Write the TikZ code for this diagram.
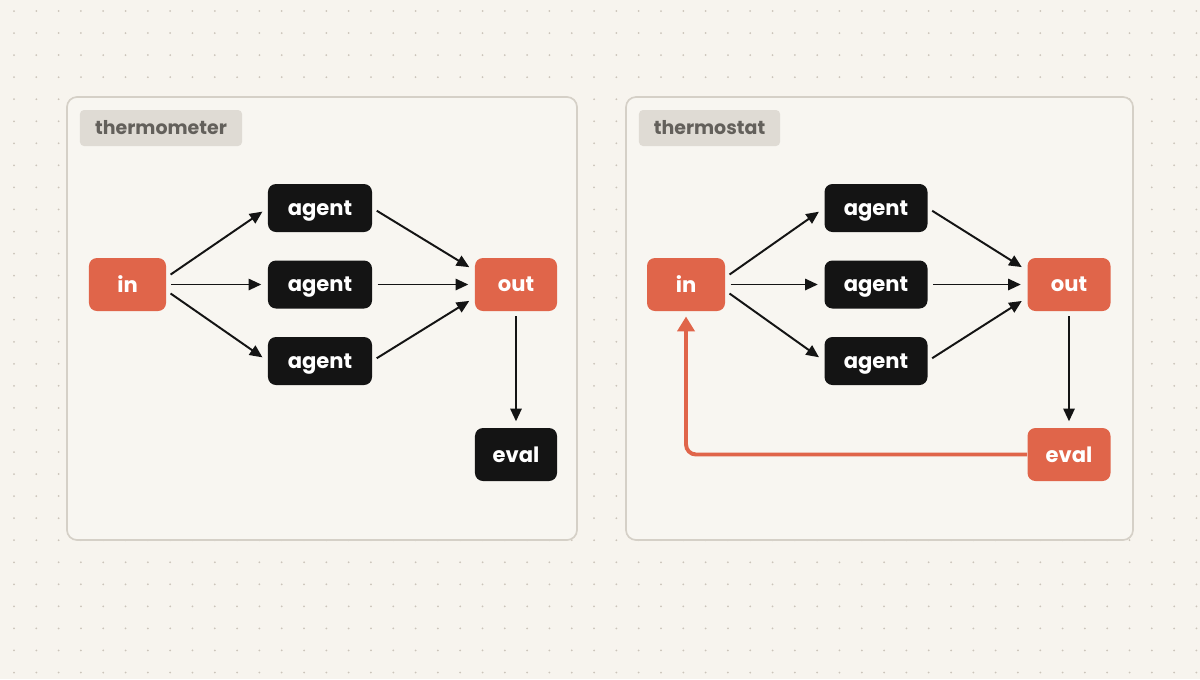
\documentclass[tikz,border=0pt]{standalone}
\usepackage{fontspec}
\setmainfont{Poppins}
\usetikzlibrary{arrows.meta,calc,positioning}

\definecolor{paper}{HTML}{F7F4EE}
\definecolor{sheet}{HTML}{F8F6F1}
\definecolor{rim}{HTML}{D5D0C7}
\definecolor{dotgrey}{HTML}{CBC4BA}
\definecolor{tagfill}{HTML}{DFDBD4}
\definecolor{tagtext}{HTML}{63605B}
\definecolor{rust}{HTML}{E0654A}
\definecolor{ink}{HTML}{141414}

\tikzset{
	tile/.style={rounded corners=0.2cm, inner sep=0pt, text=white, minimum height=1.325cm, font=\bfseries\fontsize{15}{18}\selectfont},
	hot/.style={tile, fill=rust},
	cold/.style={tile, fill=ink},
	agentbox/.style={cold, minimum width=2.6cm, minimum height=1.2cm, text depth=0pt},
	panel/.style={draw=rim, line width=1.2pt, fill=sheet, rounded corners=0.25cm},
	tag/.style={fill=tagfill, text=tagtext, rounded corners=0.1cm, inner sep=0pt, minimum height=0.9cm, font=\bfseries\fontsize{13.5}{15}\selectfont},
	flow/.style={draw=ink, line width=1.4pt, -{Triangle[length=9pt,width=8pt]}, shorten <=0.13cm, shorten >=0.16cm},
	feedback/.style={draw=rust, line width=2.8pt, rounded corners=0.25cm, -{Triangle[length=10.5pt,width=12pt]}, shorten >=0.13cm}
}

\begin{document}
\begin{tikzpicture}[x=0.025cm,y=-0.025cm]
	\fill[paper] (0,0) rectangle (1200,679);
	\useasboundingbox (0,0) rectangle (1200,679);
	\foreach \i in {0,...,53}
		\foreach \j in {0,...,30}
			\fill[dotgrey] (14+22.31*\i,11+22.05*\j) circle (0.025cm);

	\draw[panel] (67,97) rectangle (577,540);
	\draw[panel] (626,97) rectangle (1133,540);

	\node[tag, minimum width=4.05cm]	(tagA)	at (161,128)	{thermometer};
	\node[tag, minimum width=3.525cm]	(tagB)	at (709.5,128)	{thermostat};

	\node[hot, minimum width=1.925cm]	(inA)	at (127.5,284.5)	{in};
	\node[agentbox]						(agA1)	at (320,208)		{agent};
	\node[agentbox]						(agA2)	at (320,284.5)		{agent};
	\node[agentbox]						(agA3)	at (320,361)		{agent};
	\node[hot, minimum width=2.05cm]	(outA)	at (516,284.5)		{out};
	\node[cold, minimum width=2.05cm]	(evalA)	at (516,454.5)		{eval};

	\node[hot, minimum width=1.95cm]	(inB)	at (686,284.5)		{in};
	\node[agentbox, minimum width=2.575cm]	(agB1)	at (876,208)	{agent};
	\node[agentbox, minimum width=2.575cm]	(agB2)	at (876,284.5)	{agent};
	\node[agentbox, minimum width=2.575cm]	(agB3)	at (876,361)	{agent};
	\node[hot, minimum width=2.075cm]	(outB)	at (1069,284.5)		{out};
	\node[hot, minimum width=2.075cm]	(evalB)	at (1069,454.5)		{eval};

	\draw[flow]	($(inA.east)+(0,-7)$)	-- (agA1.west);
	\draw[flow]	(inA.east)				-- (agA2.west);
	\draw[flow]	($(inA.east)+(0,6)$)	-- (agA3.west);
	\draw[flow]	(agA1.east)	-- ($(outA.west)+(0,-14)$);
	\draw[flow]	(agA2.east)	-- (outA.west);
	\draw[flow]	(agA3.east)	-- ($(outA.west)+(0,13)$);
	\draw[flow]	(outA)		-- (evalA);

	\draw[flow]	($(inB.east)+(0,-7)$)	-- (agB1.west);
	\draw[flow]	(inB.east)				-- (agB2.west);
	\draw[flow]	($(inB.east)+(0,6)$)	-- (agB3.west);
	\draw[flow]	(agB1.east)	-- ($(outB.west)+(0,-14)$);
	\draw[flow]	(agB2.east)	-- (outB.west);
	\draw[flow]	(agB3.east)	-- ($(outB.west)+(0,13)$);
	\draw[flow]	(outB)		-- (evalB);

	\draw[feedback]	(evalB.west) -| (inB.south);
\end{tikzpicture}
\end{document}
